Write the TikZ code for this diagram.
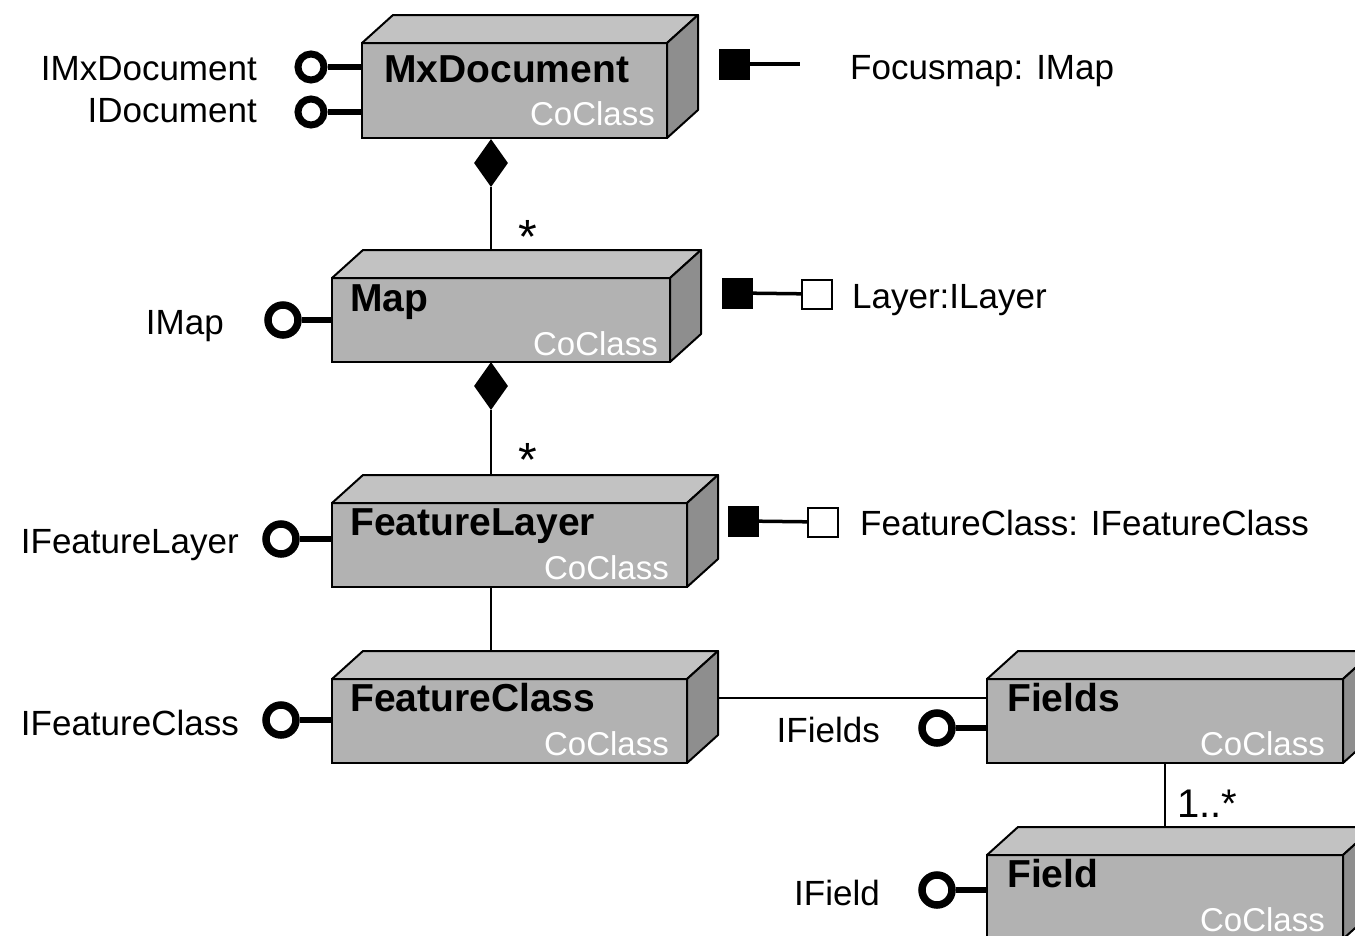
\documentclass[tikz,border=0pt]{standalone}
\usepackage{fontspec}
\setmainfont{Liberation Sans}
\usetikzlibrary{shapes.geometric}

\definecolor{frontgray}{RGB}{178,178,178}
\definecolor{topgray}{RGB}{194,194,194}
\definecolor{sidegray}{RGB}{142,142,142}

\begin{document}
\begin{tikzpicture}[x=1pt,y=-1pt,
    cobox/.style={draw,line width=2pt,fill=frontgray,anchor=north west,inner sep=0pt,outer sep=0pt},
    topface/.style={draw,line width=2pt,fill=topgray,line join=round},
    sideface/.style={draw,line width=2pt,fill=sidegray,line join=round},
    cotitle/.style={anchor=base west,inner sep=0pt,font=\fontsize{39}{44}\selectfont\bfseries},
    costereo/.style={anchor=base east,inner sep=0pt,text=white,font=\fontsize{33}{38}\selectfont},
    iface/.style={circle,draw,line width=7.5pt,minimum size=30pt,inner sep=0pt,fill=white},
    smalliface/.style={iface,line width=7pt,minimum size=26pt},
    stub/.style={line width=6.5pt},
    lbl/.style={inner sep=0pt,font=\fontsize{35}{40}\selectfont},
    blacksq/.style={fill=black,minimum width=31pt,minimum height=31pt,inner sep=0pt},
    whitesq/.style={draw,line width=2pt,fill=white,minimum width=30pt,minimum height=29pt,inner sep=0pt},
    propline/.style={line width=3.5pt},
    assoc/.style={line width=2pt},
    mult/.style={inner sep=0pt,anchor=base,font=\fontsize{48}{52}\selectfont},
    compdiamond/.style={diamond,fill=black,minimum width=34pt,minimum height=48pt,inner sep=0pt}]
    \useasboundingbox (0,0) rectangle (1355,935);
    \clip (0,0) rectangle (1355,935);

    % classes
    \node[cobox,minimum width=305pt,minimum height=95pt] (mxdoc) at (362,43) {};
    \node[cobox,minimum width=338pt,minimum height=84pt] (map) at (332,278) {};
    \node[cobox,minimum width=355pt,minimum height=84pt] (flayer) at (332,503) {};
    \node[cobox,minimum width=355pt,minimum height=84pt] (fclass) at (332,679) {};
    \node[cobox,minimum width=356pt,minimum height=84pt] (fields) at (987,679) {};
    \node[cobox,minimum width=356pt,minimum height=84pt] (field) at (987,855) {};

    \foreach \n in {mxdoc,map,flayer,fclass,fields,field}{
      \filldraw[topface] (\n.north west) -- ++(31,-28) -- ([shift={(31,-28)}]\n.north east) -- (\n.north east) -- cycle;
      \filldraw[sideface] (\n.north east) -- ++(31,-28) -- ([shift={(31,-28)}]\n.south east) -- (\n.south east) -- cycle;
      \coordinate (\n-back) at ([shift={(0,-28)}]\n.north);
    }

    \node[cotitle] (mxdoc-t) at (384,82) {MxDocument};
    \node[costereo] (mxdoc-s) at (655,125) {CoClass};
    \node[cotitle] (map-t) at (350,311) {Map};
    \node[costereo] (map-s) at (658,355) {CoClass};
    \node[cotitle] (flayer-t) at (350,535) {FeatureLayer};
    \node[costereo] (flayer-s) at (669,579) {CoClass};
    \node[cotitle] (fclass-t) at (350,711) {FeatureClass};
    \node[costereo] (fclass-s) at (669,755) {CoClass};
    \node[cotitle] (fields-t) at (1007,711) {Fields};
    \node[costereo] (fields-s) at (1325,755) {CoClass};
    \node[cotitle] (field-t) at (1007,887) {Field};
    \node[costereo] (field-s) at (1325,931) {CoClass};

    % interfaces
    \node[smalliface] (imxdoc) at (311,67) {};
    \node[smalliface] (idoc) at (311,112) {};
    \node[iface] (imap) at (283,320) {};
    \node[iface] (iflayer) at (281,539) {};
    \node[iface] (ifclass) at (281,720) {};
    \node[iface] (ifields) at (937,728) {};
    \node[iface] (ifield) at (937,890) {};

    \draw[stub] (imxdoc) -- (imxdoc -| mxdoc.west);
    \draw[stub] (idoc) -- (idoc -| mxdoc.west);
    \draw[stub] (imap) -- (imap -| map.west);
    \draw[stub] (iflayer) -- (iflayer -| flayer.west);
    \draw[stub] (ifclass) -- (ifclass -| fclass.west);
    \draw[stub] (ifields) -- (ifields -| fields.west);
    \draw[stub] (ifield) -- (ifield -| field.west);

    \node[lbl,anchor=base east] (imxdoc-l) at (257,80) {IMxDocument};
    \node[lbl,anchor=base east] (idoc-l) at (257,122) {IDocument};
    \node[lbl,anchor=base east] (imap-l) at (224,334) {IMap};
    \node[lbl,anchor=base east] (iflayer-l) at (239,553) {IFeatureLayer};
    \node[lbl,anchor=base east] (ifclass-l) at (239,735) {IFeatureClass};
    \node[lbl,anchor=base east] (ifields-l) at (880,742) {IFields};
    \node[lbl,anchor=base east] (ifield-l) at (880,905) {IField};

    % properties
    \node[blacksq] (p1) at (734,64) {};
    \coordinate (p1-end) at (800,64);
    \draw[propline] (p1) -- (p1-end);
    \node[lbl,anchor=base west] (p1-l) at (850,79) {Focusmap: IMap};

    \node[blacksq] (p2) at (737,293) {};
    \node[whitesq] (p2-v) at (817,294) {};
    \draw[propline] (p2) -- (p2-v);
    \node[lbl,anchor=base west] (p2-l) at (852,308) {Layer:ILayer};

    \node[blacksq] (p3) at (743,521) {};
    \node[whitesq] (p3-v) at (823,522) {};
    \draw[propline] (p3) -- (p3-v);
    \node[lbl,anchor=base west] (p3-l) at (860,535) {FeatureClass: IFeatureClass};

    % relations
    \node[compdiamond] (d1) at (491,163) {};
    \draw[assoc] (d1.south) -- (d1.south |- map-back);
    \node[mult] (m1) at (528,253) {*};

    \node[compdiamond] (d2) at (491,386) {};
    \draw[assoc] (d2.south) -- (d2.south |- flayer-back);
    \node[mult] (m2) at (528,476) {*};

    \draw[assoc] (d2.south |- flayer.south) -- (d2.south |- fclass-back);

    \coordinate (fc-r) at ([shift={(31,-23)}]fclass.east);
    \draw[assoc] (fc-r) -- (fc-r -| fields.west);

    \draw[assoc] (fields.south) -- (fields.south |- field-back);
    \node[lbl,anchor=base west,font=\fontsize{40}{44}\selectfont] (m3) at (1177,817) {1..*};
\end{tikzpicture}
\end{document}
